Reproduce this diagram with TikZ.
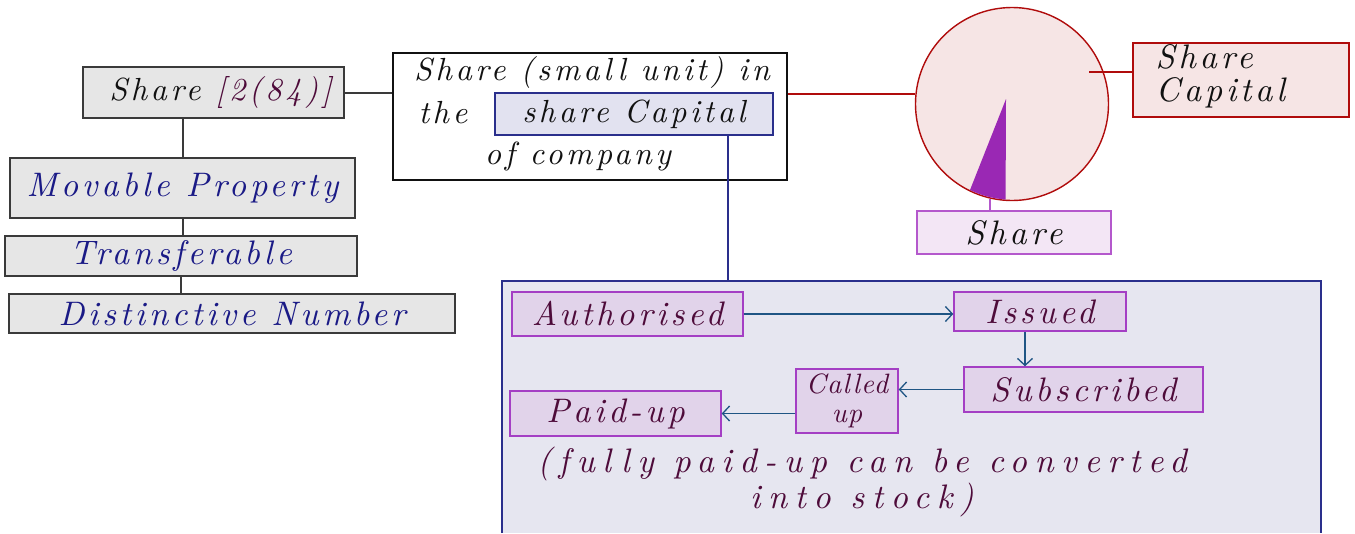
\documentclass[tikz,border=0pt]{standalone}
\usepackage{fontspec}
\usepackage{xcolor}
\usetikzlibrary{arrows.meta}
\newfontfamily\handfamily{lmroman10-italic.otf}[LetterSpace=11]
\newfontfamily\tighthand{lmroman10-italic.otf}[LetterSpace=4]
\newfontfamily\widehand{lmroman10-italic.otf}[LetterSpace=22]
\definecolor{ink}{HTML}{111111}
\definecolor{edgegrey}{HTML}{3A3A3A}
\definecolor{boxgrey}{HTML}{E6E6E6}
\definecolor{navytext}{HTML}{1A1A86}
\definecolor{maroon}{HTML}{4E0B3A}
\definecolor{navyline}{HTML}{2A2F8C}
\definecolor{panelfill}{HTML}{E6E6F0}
\definecolor{markfill}{HTML}{E2E2F0}
\definecolor{pinkfill}{HTML}{F6E5E5}
\definecolor{redline}{HTML}{B00C0C}
\definecolor{wedge}{HTML}{9A28B4}
\definecolor{lilacfill}{HTML}{F3E6F5}
\definecolor{lilacline}{HTML}{B458CC}
\definecolor{stagefill}{HTML}{E1D3EA}
\definecolor{stageline}{HTML}{A43FC4}
\definecolor{flowblue}{HTML}{1F5584}
\newcommand{\handfont}[2]{\handfamily\fontsize{#1}{#2}\selectfont}
\tikzset{
  >={Straight Barb[length=7pt,width=15pt]},
  base/.style={line width=1.4pt,inner sep=0pt,align=center,font=\handfont{34}{38}},
  greybox/.style={base,draw=edgegrey,fill=boxgrey,text=navytext},
  textbox/.style={base,draw=ink,fill=white,font=\handfont{32}{36}},
  markbox/.style={base,draw=navyline,fill=markfill,text=ink,font=\handfont{32}{36}},
  pinkbox/.style={base,draw=redline,fill=pinkfill,text=ink},
  lilacbox/.style={base,draw=lilacline,fill=lilacfill,text=ink},
  stage/.style={base,draw=stageline,fill=stagefill,text=maroon},
  words/.style={base,text=ink},
  link/.style={line width=2pt,draw=edgegrey},
  flow/.style={->,line width=1.3pt,draw=flowblue}
}
\begin{document}
\begin{tikzpicture}[x=1pt,y=-1pt]
  \useasboundingbox (0,0) rectangle (1355,533);
  % left column
  \node[greybox,text=ink,minimum width=261pt,minimum height=51pt,font=\handfont{32}{36}] (share) at (213.5,92.5)
    {\hspace*{14pt}Share \textcolor{maroon}{[2(84)]}};
  \node[greybox,minimum width=345pt,minimum height=60pt] (movable) at (182.5,188) {Movable Property};
  \node[greybox,minimum width=352pt,minimum height=40pt] (transf) at (181,256) {Transferable};
  \node[greybox,minimum width=446pt,minimum height=39pt] (distinct) at (232,313.5) {Distinctive Number};
  \draw[link] (share.south -| movable.north) -- (movable.north);
  \draw[link] (movable.south) -- (movable.south |- transf.north);
  \draw[link] (transf.south) -- (transf.south |- distinct.north);
  % definition
  \node[textbox,minimum width=394pt,minimum height=127pt] (defbox) at (590,116.5) {};
  \node[words,font=\handfont{32}{36}] (defone) at (592,72) {Share (small unit) in};
  \node[words,font=\handfont{32}{36}] (defthe) at (443,113) {the};
  \node[markbox,minimum width=278pt,minimum height=42pt] (capmark) at (634,114) {share Capital};
  \node[words,font=\handfont{32}{36}] (defthree) at (578,156) {of company};
  \draw[link] (share.east) -- (share.east -| defbox.west);
  % pie
  \node[circle,draw=redline,fill=pinkfill,line width=1.4pt,minimum size=193pt,inner sep=0pt] (circ) at (1012,104) {};
  \fill[wedge] (1006,99) -- (970,190) arc[start angle=-116,end angle=-94,radius=96.5pt] -- cycle;
  \coordinate (wedgefoot) at (990,199);
  \coordinate (capspot) at (1089,72);
  \node[pinkbox,minimum width=216pt,minimum height=74pt] (sharecap) at (1241,80) {};
  \node[words,align=left,anchor=north west,font=\handfont{34}{33}] (captext) at (1155,44) {Share\\Capital};
  \node[lilacbox,minimum width=194pt,minimum height=43pt] (sharelbl) at (1014,232.5) {Share};
  \draw[line width=1.6pt,draw=redline] (defbox.east |- circ.174) -- (circ.174);
  \draw[line width=1.6pt,draw=redline] (capspot) -- (capspot -| sharecap.west);
  \draw[line width=1.6pt,draw=lilacline] (wedgefoot) -- (wedgefoot |- sharelbl.north);
  % kinds of share capital
  \coordinate (paneltop) at (728,281);
  \fill[panelfill] (502,281) rectangle (1321,533);
  \draw[line width=1.4pt,draw=navyline] (502,533) |- (1321,281) -- (1321,533);
  \draw[line width=1.6pt,draw=navyline] (capmark.south -| paneltop) -- (paneltop);
  \node[stage,minimum width=231pt,minimum height=44pt] (auth) at (627.5,314) {Authorised};
  \node[stage,minimum width=172pt,minimum height=39pt] (issued) at (1040,311.5) {Issued};
  \node[stage,minimum width=239pt,minimum height=45pt] (subscr) at (1083.5,389.5) {Subscribed};
  \node[stage,minimum width=102pt,minimum height=64pt,font=\tighthand\fontsize{28}{29}\selectfont] (called) at (847,401) {Called\\up};
  \node[stage,minimum width=211pt,minimum height=45pt] (paid) at (615.5,413.5) {Paid-up};
  \node[words,text=maroon,font=\widehand\fontsize{34}{36}\selectfont] (note) at (862,482)
    {(fully paid-up can be converted\\into stock)};
  \draw[flow] (auth.east) -- (auth.east -| issued.west);
  \draw[flow] ([xshift=-15pt]issued.south) -- ([xshift=-15pt]issued.south |- subscr.north);
  \draw[flow] (subscr.west) -- (subscr.west -| called.east);
  \draw[flow] (paid.east -| called.west) -- (paid.east);
\end{tikzpicture}
\end{document}
